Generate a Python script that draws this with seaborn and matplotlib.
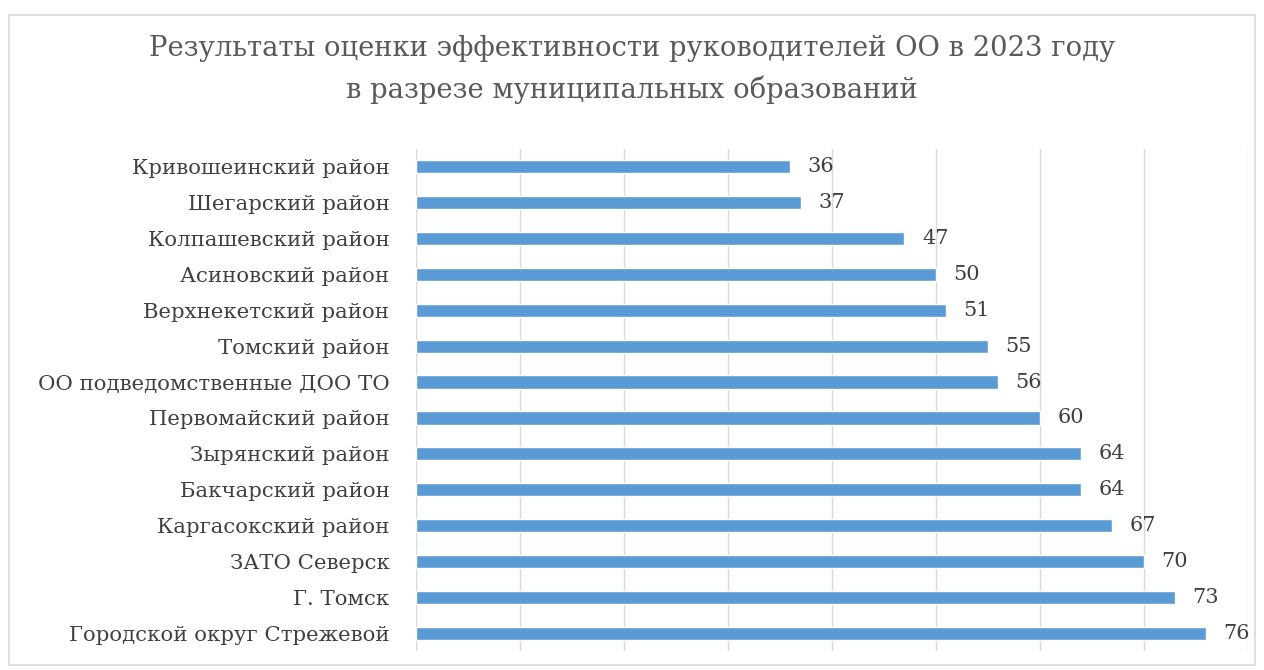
import matplotlib
matplotlib.use("Agg")

import matplotlib.pyplot as plt
import matplotlib.patches as mpatches
import pandas as pd
import seaborn as sns

districts = [
    "Кривошеинский район",
    "Шегарский район",
    "Колпашевский район",
    "Асиновский район",
    "Верхнекетский район",
    "Томский район",
    "ОО подведомственные ДОО ТО",
    "Первомайский район",
    "Зырянский район",
    "Бакчарский район",
    "Каргасокский район",
    "ЗАТО Северск",
    "Г. Томск",
    "Городской округ Стрежевой",
]
scores = [36, 37, 47, 50, 51, 55, 56, 60, 64, 64, 67, 70, 73, 76]

title = "Результаты оценки эффективности руководителей ОО в 2023 году\nв разрезе муниципальных образований"

sns.set_theme(style="white")
plt.rcParams["font.family"] = ["DejaVu Serif"]

df = pd.DataFrame({"district": districts, "score": scores})

fig = plt.figure(figsize=(12.64, 6.70), dpi=100)
ax = fig.add_axes([0.329, 0.028, 0.658, 0.750])

# рамка вокруг всей диаграммы
fig.patches.append(mpatches.Rectangle((0.007, 0.008), 0.986, 0.97, transform=fig.transFigure,
                                      fill=False, edgecolor="#d9d9d9", linewidth=1.2))

sns.barplot(data=df, y="district", x="score", orient="h", color="#5b9bd5",
            saturation=1, width=0.37, ax=ax)

ax.set_xlim(0, 80)
ax.set_xticks(range(0, 81, 10))
ax.set_xticklabels([])
ax.grid(axis="x", color="#d9d9d9", linewidth=1)
ax.set_axisbelow(True)
for s in ax.spines.values():
    s.set_visible(False)
ax.set_xlabel("")
ax.set_ylabel("")
ax.tick_params(axis="y", length=0, labelsize=15.3, labelcolor="#404040", pad=19)
ax.tick_params(axis="x", length=0)

for i, v in enumerate(scores):
    ax.text(v + 1.7, i, str(v), va="center", ha="left", fontsize=15, color="#404040")

fig.text(0.5, 0.948, title, ha="center", va="top", fontsize=19.7, color="#595959",
         linespacing=1.6)

fig.savefig("out.png", dpi=100)
